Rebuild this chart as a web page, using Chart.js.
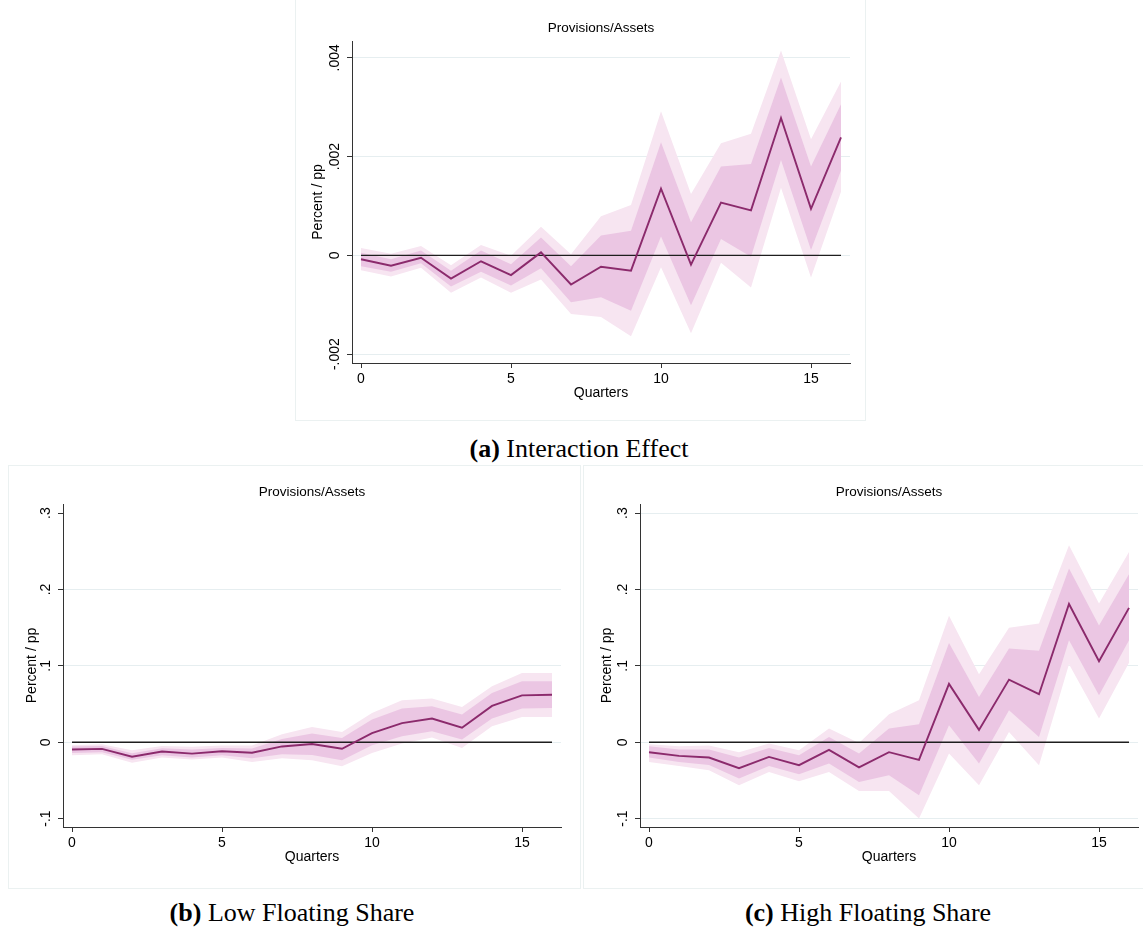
<!DOCTYPE html>
<html>
<head>
<meta charset="utf-8">
<title>Provisions/Assets</title>
<script src="https://cdn.jsdelivr.net/npm/chart.js@4.4.1/dist/chart.umd.min.js"></script>
<style>
    html, body { margin: 0; padding: 0; background: #fff; }
    body { width: 1143px; height: 931px; position: relative; overflow: hidden; }
    .frame { position: absolute; border: 1px solid #ebf1f1; box-sizing: border-box; }
    canvas { position: absolute; }
    .caption {
        position: absolute;
        transform: translate(-50%, -50%);
        font-family: 'Liberation Serif', 'Times New Roman', serif;
        font-size: 26px;
        line-height: 1;
        color: #000;
        white-space: nowrap;
    }
</style>
</head>
<body>

<div class="frame" style="left:295px;top:-1px;width:571px;height:422px"></div>
<div class="frame" style="left:8px;top:465px;width:573px;height:424px"></div>
<div class="frame" style="left:583px;top:465px;width:562px;height:424px"></div>

<canvas id="chart-a"></canvas>
<canvas id="chart-b"></canvas>
<canvas id="chart-c"></canvas>

<div class="caption" style="left:579px;top:449px"><b>(a)</b> Interaction Effect</div>
<div class="caption" style="left:292px;top:913px"><b>(b)</b> Low Floating Share</div>
<div class="caption" style="left:868px;top:913px"><b>(c)</b> High Floating Share</div>

<script>
// Shared x axis.
const quarters = [0, 1, 2, 3, 4, 5, 6, 7, 8, 9, 10, 11, 12, 13, 14, 15, 16];
const xTicks = [0, 5, 10, 15];
const xTickLabels = ['0', '5', '10', '15'];

// (a) Interaction effect.
const estA = [-0.00008, -0.00021, -0.00005, -0.00047, -0.00012, -0.00040, 0.00006, -0.00059, -0.00023, -0.00031, 0.00135, -0.00019, 0.00107, 0.00091, 0.00278, 0.00094, 0.00239];
const innerHiA = [0.00005, -0.00008, 0.00010, -0.00031, 0.00010, -0.00018, 0.00036, -0.00022, 0.00040, 0.00050, 0.00229, 0.00067, 0.00180, 0.00185, 0.00360, 0.00180, 0.00306];
const innerLoA = [-0.00022, -0.00033, -0.00016, -0.00063, -0.00033, -0.00061, -0.00026, -0.00095, -0.00085, -0.00112, 0.00038, -0.00101, 0.00033, -0.00003, 0.00193, 0.00011, 0.00172];
const outerHiA = [0.00015, 0.00003, 0.00019, -0.00020, 0.00021, -0.00001, 0.00058, 0.00002, 0.00079, 0.00102, 0.00292, 0.00124, 0.00227, 0.00246, 0.00415, 0.00235, 0.00352];
const outerLoA = [-0.00030, -0.00043, -0.00025, -0.00076, -0.00045, -0.00076, -0.00049, -0.00119, -0.00125, -0.00164, -0.00024, -0.00158, -0.00015, -0.00065, 0.00137, -0.00045, 0.00129];
const yTicksA = [-0.002, 0, 0.002, 0.004];
const yTickLabelsA = ['-.002', '0', '.002', '.004'];

// (b) Low floating share.
const estB = [-0.0096, -0.0087, -0.0189, -0.0122, -0.0149, -0.0118, -0.0137, -0.0055, -0.0024, -0.0085, 0.0120, 0.0251, 0.0310, 0.0190, 0.0476, 0.0614, 0.0622];
const innerHiB = [-0.0057, -0.0048, -0.0144, -0.0079, -0.0096, -0.0074, -0.0083, 0.0044, 0.0114, 0.0057, 0.0297, 0.0441, 0.0472, 0.0362, 0.0646, 0.0799, 0.0799];
const innerLoB = [-0.0140, -0.0130, -0.0230, -0.0170, -0.0200, -0.0170, -0.0210, -0.0157, -0.0166, -0.0236, -0.0040, 0.0079, 0.0144, 0.0035, 0.0310, 0.0441, 0.0450];
const outerHiB = [-0.0040, -0.0026, -0.0105, -0.0048, -0.0060, -0.0044, -0.0044, 0.0105, 0.0200, 0.0135, 0.0384, 0.0550, 0.0572, 0.0463, 0.0734, 0.0908, 0.0908];
const outerLoB = [-0.0170, -0.0157, -0.0270, -0.0200, -0.0227, -0.0200, -0.0260, -0.0210, -0.0236, -0.0314, -0.0140, -0.0017, 0.0061, -0.0074, 0.0210, 0.0332, 0.0332];

// (c) High floating share.
const estC = [-0.0131, -0.0179, -0.0200, -0.0340, -0.0192, -0.0300, -0.0100, -0.0330, -0.0130, -0.0230, 0.0764, 0.0162, 0.0820, 0.0629, 0.1810, 0.1060, 0.1760];
const innerHiC = [-0.0052, -0.0096, -0.0096, -0.0200, -0.0074, -0.0170, 0.0070, -0.0148, 0.0179, 0.0236, 0.1300, 0.0594, 0.1227, 0.1197, 0.2275, 0.1530, 0.2200];
const innerLoC = [-0.0200, -0.0260, -0.0297, -0.0476, -0.0310, -0.0420, -0.0280, -0.0520, -0.0432, -0.0694, 0.0223, -0.0280, 0.0419, 0.0070, 0.1336, 0.0616, 0.1336];
const outerHiC = [-0.0026, -0.0052, -0.0044, -0.0131, -0.0017, -0.0105, 0.0179, -0.0009, 0.0367, 0.0550, 0.1655, 0.0890, 0.1500, 0.1555, 0.2580, 0.1817, 0.2490];
const outerLoC = [-0.0258, -0.0310, -0.0367, -0.0563, -0.0389, -0.0510, -0.0389, -0.0638, -0.0638, -0.1000, -0.0148, -0.0563, 0.0135, -0.0300, 0.1020, 0.0310, 0.1040];

const yTicksBC = [-0.1, 0, 0.1, 0.2, 0.3];
const yTickLabelsBC = ['-.1', '0', '.1', '.2', '.3'];

// Styling.
const FONT = "'Liberation Sans', Arial, sans-serif";
const TITLE_SIZE = 13.5;
const AXIS_SIZE = 14;
const TICK_LEN = 5;
const AXIS_COLOR = '#333333';
const GRID_COLOR = '#e6eef0';
const LINE_COLOR = '#8b2a6c';
const INNER_COLOR = '#ebc6e3';
const OUTER_COLOR = '#f7e5f1';
const ZERO_COLOR = '#1e1e1e';

Chart.defaults.font.family = FONT;
Chart.defaults.color = '#000';

const measureCtx = document.createElement('canvas').getContext('2d');

function textWidth(text) {
    measureCtx.font = `${AXIS_SIZE}px ${FONT}`;
    return measureCtx.measureText(text).width;
}

function points(values) {
    return quarters.map((q, i) => ({ x: q, y: values[i] }));
}

function band(values, fillColor, order) {
    return {
        data: points(values),
        borderColor: 'rgba(0,0,0,0)',
        borderWidth: 0,
        pointRadius: 0,
        pointHoverRadius: 0,
        backgroundColor: fillColor,
        fill: fillColor ? '-1' : false,
        tension: 0,
        order: order
    };
}

// A function that builds one panel in its own canvas.

function buildPanel(canvasId, panel) {
    const canvas = document.getElementById(canvasId);
    const box = panel.box;
    const area = panel.area;

    canvas.width = box.width;
    canvas.height = box.height;
    canvas.style.left = box.left + 'px';
    canvas.style.top = box.top + 'px';

    const yWidth = area.left - box.left;
    const xHeight = box.top + box.height - area.bottom;
    const titleLine = TITLE_SIZE * 1.2;
    const titleTop = panel.titleY - box.top - titleLine / 2;
    const titleBottom = area.top - box.top - titleTop - titleLine;
    const axisLine = AXIS_SIZE * 1.2;
    const xTitlePad = box.top + box.height - panel.xTitleY - axisLine / 2;
    const yTitlePad = panel.yTitleX - box.left - axisLine / 2;
    const widest = Math.max(...panel.yTickLabels.map(textWidth));
    const yLabelPad = area.left - panel.yLabelX - TICK_LEN - widest / 2;

    return new Chart(canvas, {
        type: 'line',
        data: {
            datasets: [
                band(panel.outerLo, null, 4),
                band(panel.outerHi, OUTER_COLOR, 4),
                band(panel.innerLo, null, 3),
                band(panel.innerHi, INNER_COLOR, 3),
                {
                    data: [{ x: 0, y: 0 }, { x: 16, y: 0 }],
                    borderColor: ZERO_COLOR,
                    borderWidth: 1.3,
                    pointRadius: 0,
                    fill: false,
                    order: 2
                },
                {
                    data: points(panel.est),
                    borderColor: LINE_COLOR,
                    borderWidth: 1.9,
                    pointRadius: 0,
                    fill: false,
                    tension: 0,
                    order: 1
                }
            ]
        },
        options: {
            responsive: false,
            animation: false,
            devicePixelRatio: 1,
            events: [],
            layout: {
                padding: { left: 0, top: 0, bottom: 0, right: box.left + box.width - area.right }
            },
            plugins: {
                legend: { display: false },
                tooltip: { enabled: false },
                title: {
                    display: true,
                    text: 'Provisions/Assets',
                    fullSize: false,
                    color: '#000',
                    font: { size: TITLE_SIZE, weight: 'normal' },
                    padding: { top: titleTop, bottom: titleBottom }
                }
            },
            scales: {
                x: {
                    type: 'linear',
                    min: -0.3,
                    max: 16.3,
                    afterBuildTicks: s => { s.ticks = xTicks.map(v => ({ value: v })); },
                    afterFit: s => { s.height = xHeight; },
                    ticks: {
                        callback: (v, i) => xTickLabels[i],
                        color: '#000',
                        font: { size: AXIS_SIZE },
                        padding: 3,
                        maxRotation: 0,
                        autoSkip: false
                    },
                    grid: {
                        drawOnChartArea: false,
                        tickLength: TICK_LEN,
                        tickColor: AXIS_COLOR
                    },
                    border: { color: AXIS_COLOR, width: 1 },
                    title: {
                        display: true,
                        text: 'Quarters',
                        color: '#000',
                        font: { size: AXIS_SIZE },
                        padding: { top: 0, bottom: xTitlePad }
                    }
                },
                y: {
                    type: 'linear',
                    min: panel.yMin,
                    max: panel.yMax,
                    afterBuildTicks: s => { s.ticks = panel.yTicks.map(v => ({ value: v })); },
                    afterFit: s => { s.width = yWidth; },
                    ticks: {
                        callback: (v, i) => panel.yTickLabels[i],
                        color: '#000',
                        font: { size: AXIS_SIZE },
                        minRotation: 90,
                        maxRotation: 90,
                        crossAlign: 'center',
                        padding: yLabelPad,
                        autoSkip: false
                    },
                    grid: {
                        color: ctx => panel.gridAt.includes(ctx.tick.value) ? GRID_COLOR : 'rgba(0,0,0,0)',
                        tickLength: TICK_LEN,
                        tickColor: AXIS_COLOR
                    },
                    border: { color: AXIS_COLOR, width: 1 },
                    title: {
                        display: true,
                        text: 'Percent / pp',
                        color: '#000',
                        font: { size: AXIS_SIZE },
                        padding: { top: yTitlePad, bottom: 0 }
                    }
                }
            }
        }
    });
}

// Panel definitions.

buildPanel('chart-a', {
    box: { left: 295, top: 0, width: 570, height: 420 },
    area: { left: 352, right: 850, top: 41, bottom: 363 },
    titleY: 28.5, xTitleY: 393, yTitleX: 318, yLabelX: 335,
    yMin: -0.00218, yMax: 0.00434,
    yTicks: yTicksA, yTickLabels: yTickLabelsA,
    gridAt: [-0.002, 0, 0.002, 0.004],
    est: estA, innerHi: innerHiA, innerLo: innerLoA, outerHi: outerHiA, outerLo: outerLoA
});

buildPanel('chart-b', {
    box: { left: 8, top: 465, width: 572, height: 423 },
    area: { left: 63, right: 561, top: 504, bottom: 827 },
    titleY: 492.5, xTitleY: 857, yTitleX: 32, yLabelX: 46.5,
    yMin: -0.111, yMax: 0.312,
    yTicks: yTicksBC, yTickLabels: yTickLabelsBC,
    gridAt: [0, 0.1, 0.2],
    est: estB, innerHi: innerHiB, innerLo: innerLoB, outerHi: outerHiB, outerLo: outerLoB
});

buildPanel('chart-c', {
    box: { left: 583, top: 465, width: 560, height: 423 },
    area: { left: 640, right: 1138, top: 504, bottom: 827 },
    titleY: 492.5, xTitleY: 857, yTitleX: 607, yLabelX: 623.5,
    yMin: -0.111, yMax: 0.312,
    yTicks: yTicksBC, yTickLabels: yTickLabelsBC,
    gridAt: [-0.1, 0, 0.1, 0.2, 0.3],
    est: estC, innerHi: innerHiC, innerLo: innerLoC, outerHi: outerHiC, outerLo: outerLoC
});
</script>
</body>
</html>
